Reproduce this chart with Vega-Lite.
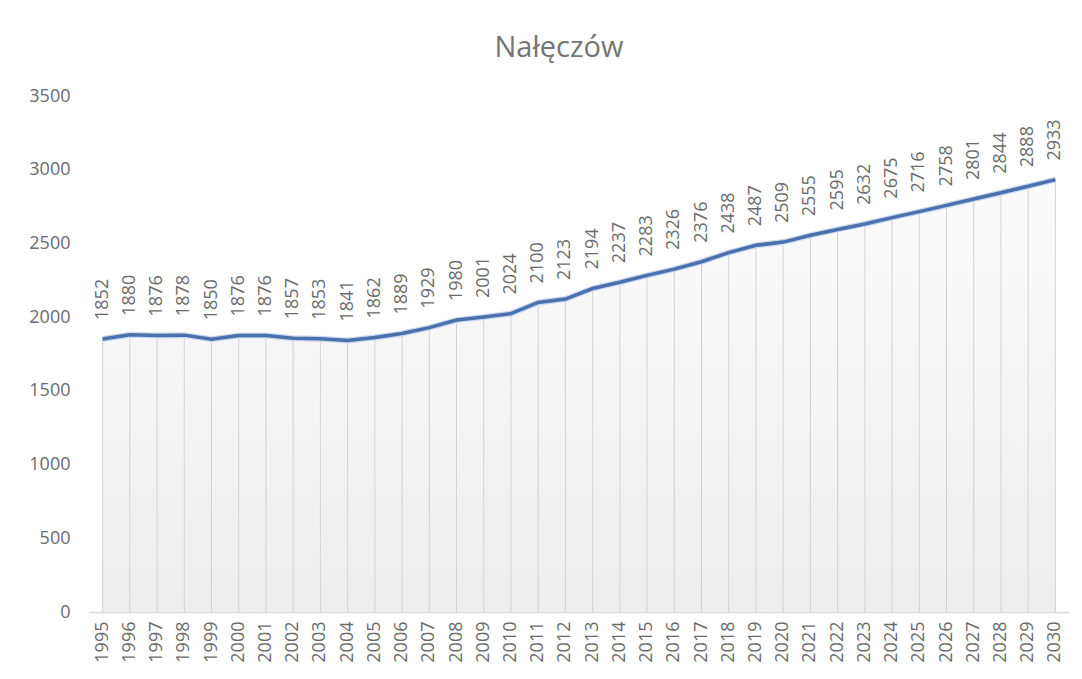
{
  "$schema": "https://vega.github.io/schema/vega-lite/v6.json",
  "width": 980,
  "height": 516,
  "autosize": {"type": "none"},
  "padding": {"left": 89, "top": 96, "right": 13, "bottom": 67},
  "background": "white",
  "config": {"view": {"stroke": null}, "font": "Open Sans"},
  "title": {"text": "Nałęczów", "fontSize": 29, "font": "Open Sans", "fontWeight": "normal", "color": "#757575", "anchor": "middle", "offset": 24, "dx": -20},
  "data": {"values": [
    {"year": "1995", "value": 1852}, {"year": "1996", "value": 1880}, {"year": "1997", "value": 1876},
    {"year": "1998", "value": 1878}, {"year": "1999", "value": 1850}, {"year": "2000", "value": 1876},
    {"year": "2001", "value": 1876}, {"year": "2002", "value": 1857}, {"year": "2003", "value": 1853},
    {"year": "2004", "value": 1841}, {"year": "2005", "value": 1862}, {"year": "2006", "value": 1889},
    {"year": "2007", "value": 1929}, {"year": "2008", "value": 1980}, {"year": "2009", "value": 2001},
    {"year": "2010", "value": 2024}, {"year": "2011", "value": 2100}, {"year": "2012", "value": 2123},
    {"year": "2013", "value": 2194}, {"year": "2014", "value": 2237}, {"year": "2015", "value": 2283},
    {"year": "2016", "value": 2326}, {"year": "2017", "value": 2376}, {"year": "2018", "value": 2438},
    {"year": "2019", "value": 2487}, {"year": "2020", "value": 2509}, {"year": "2021", "value": 2555},
    {"year": "2022", "value": 2595}, {"year": "2023", "value": 2632}, {"year": "2024", "value": 2675},
    {"year": "2025", "value": 2716}, {"year": "2026", "value": 2758}, {"year": "2027", "value": 2801},
    {"year": "2028", "value": 2844}, {"year": "2029", "value": 2888}, {"year": "2030", "value": 2933}
  ]},
  "encoding": {
    "x": {"field": "year", "type": "ordinal", "sort": null,
      "axis": {"title": null, "labelAngle": 270, "labelAlign": "right", "labelBaseline": "middle", "labelPadding": 9, "ticks": false, "domainColor": "#d9d9d9", "domainWidth": 1.5, "labelFontSize": 18, "labelColor": "#6b6b6b", "labelFont": "Open Sans"}},
    "y": {"field": "value", "type": "quantitative", "scale": {"domain": [0, 3500]},
      "axis": {"title": null, "format": "d", "values": [0, 500, 1000, 1500, 2000, 2500, 3000, 3500], "domain": false, "ticks": false, "grid": false, "labelPadding": 19, "labelFontSize": 18, "labelColor": "#6b6b6b", "labelFont": "Open Sans"}}
  },
  "layer": [
    {"mark": {"type": "area", "color": {"gradient": "linear", "x1": 0, "y1": 0, "x2": 0, "y2": 1, "stops": [{"offset": 0, "color": "#fbfbfb"}, {"offset": 1, "color": "#eeeeee"}]}}},
    {"mark": {"type": "rule", "color": "#d2d2d2", "strokeWidth": 1}, "encoding": {"y2": {"datum": 0}}},
    {"mark": {"type": "line", "color": "#c9d8ee", "strokeWidth": 6}},
    {"mark": {"type": "line", "color": "#4a70ad", "strokeWidth": 3.5}},
    {"mark": {"type": "text", "angle": 270, "align": "left", "baseline": "middle", "yOffset": -19, "fontSize": 18, "color": "#6b6b6b", "font": "Open Sans"}, "encoding": {"text": {"field": "value", "type": "quantitative", "format": "d"}}}
  ]
}
